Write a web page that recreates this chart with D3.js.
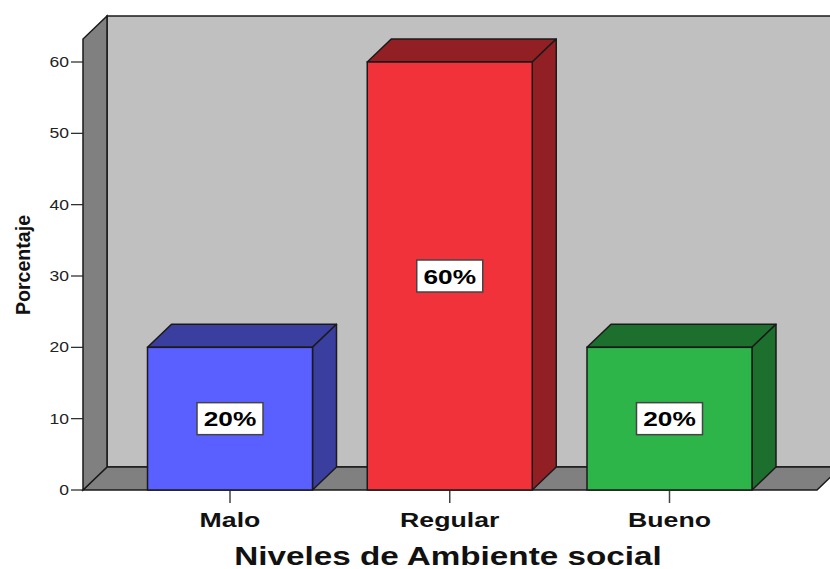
<!DOCTYPE html>
<html><head><meta charset="utf-8">
<script src="https://cdn.jsdelivr.net/npm/d3@7"></script>
<style>body{margin:0;background:#fff}svg{display:block}text{font-family:Arial,"Liberation Sans",sans-serif}</style>
</head><body><svg id="c" width="830" height="569"></svg>
<script>
const categories = ["Malo", "Regular", "Bueno"];
const percentages = [20, 60, 20];
const valueLabels = ["20%", "60%", "20%"];
const yTicks = [0, 10, 20, 30, 40, 50, 60];
const frontColors = ["#5a5fff", "#f1323a", "#2db54a"];
const sideColors = ["#3a3e9e", "#921f24", "#1d6f2d"];
const xTitle = "Niveles de Ambiente social";
const yTitle = "Porcentaje";

const svg = d3.select("#c");
const DX = 24, DY = 23;
const x0 = 83, x1 = 817, yTop = 39;
const y = d3.scaleLinear().domain([0, 60]).range([490, 62]);
const x = d3.scalePoint().domain(categories).range([230, 669.5]);
const bw = 165;
const y0 = y(0);
const stroke = "#1a1a1a";

function stretch(sel, f) {
  sel.each(function () {
    const w = this.getComputedTextLength();
    d3.select(this).attr("textLength", w * f).attr("lengthAdjust", "spacingAndGlyphs");
  });
}

// back wall
svg.append("polygon")
  .attr("points", [[x0 + DX, yTop - DY], [x1 + DX + 30, yTop - DY], [x1 + DX + 30, y0 - DY], [x0 + DX, y0 - DY]].join(" "))
  .attr("fill", "#c0c0c0").attr("stroke", stroke).attr("stroke-width", 1.5);
// floor
svg.append("polygon")
  .attr("points", [[x0, y0], [x1, y0], [x1 + DX, y0 - DY], [x0 + DX, y0 - DY]].join(" "))
  .attr("fill", "#808080").attr("stroke", stroke).attr("stroke-width", 1.5);
// left wall
svg.append("polygon")
  .attr("points", [[x0, y0], [x0, yTop], [x0 + DX, yTop - DY], [x0 + DX, y0 - DY]].join(" "))
  .attr("fill", "#808080").attr("stroke", stroke).attr("stroke-width", 1.5);

// y ticks
const yt = svg.append("g");
yt.selectAll("line").data(yTicks).join("line")
  .attr("x1", x0 - 12).attr("x2", x0).attr("y1", d => y(d)).attr("y2", d => y(d))
  .attr("stroke", "#222").attr("stroke-width", 1.2);
yt.selectAll("text").data(yTicks).join("text")
  .attr("x", x0 - 14).attr("y", d => y(d)).attr("dy", "0.36em")
  .attr("text-anchor", "end").attr("font-size", 14).attr("fill", "#222")
  .text(d => d).call(stretch, 1.25);

// bars
const bars = svg.append("g").selectAll("g").data(categories).join("g");
bars.each(function (c, i) {
  const g = d3.select(this);
  const cx = x(c), l = cx - bw / 2, r = cx + bw / 2, yv = y(percentages[i]);
  g.append("polygon").attr("points", [[l, yv], [l + DX, yv - DY], [r + DX, yv - DY], [r, yv]].join(" "))
    .attr("fill", sideColors[i]).attr("stroke", stroke).attr("stroke-width", 1.5).attr("stroke-linejoin", "round");
  g.append("polygon").attr("points", [[r, yv], [r + DX, yv - DY], [r + DX, y0 - DY], [r, y0]].join(" "))
    .attr("fill", sideColors[i]).attr("stroke", stroke).attr("stroke-width", 1.5).attr("stroke-linejoin", "round");
  g.append("rect").attr("x", l).attr("y", yv).attr("width", bw).attr("height", y0 - yv)
    .attr("fill", frontColors[i]).attr("stroke", stroke).attr("stroke-width", 1.5);
  const cy = (yv + y0) / 2;
  g.append("rect").attr("x", cx - 33).attr("y", cy - 16).attr("width", 66).attr("height", 32)
    .attr("fill", "#fff").attr("stroke", "#444").attr("stroke-width", 1.5);
  g.append("text").attr("x", cx).attr("y", cy).attr("dy", "0.36em").attr("text-anchor", "middle")
    .attr("font-size", 21).attr("font-weight", "bold").attr("fill", "#000")
    .text(valueLabels[i]).call(stretch, 1.25);
});

// x ticks and labels
const xt = svg.append("g");
xt.selectAll("line").data(categories).join("line")
  .attr("x1", d => x(d)).attr("x2", d => x(d)).attr("y1", y0 + 1).attr("y2", y0 + 13)
  .attr("stroke", "#444").attr("stroke-width", 1.5);
xt.selectAll("text").data(categories).join("text")
  .attr("x", d => x(d)).attr("y", 527).attr("text-anchor", "middle")
  .attr("font-size", 21).attr("font-weight", "bold").attr("fill", "#111")
  .text(d => d).call(stretch, 1.27);

svg.append("text").attr("x", 448).attr("y", 565).attr("text-anchor", "middle")
  .attr("font-size", 25).attr("font-weight", "bold").attr("fill", "#111")
  .text(xTitle).call(stretch, 1.33);

svg.append("text").attr("transform", "translate(30,265) rotate(-90)").attr("text-anchor", "middle")
  .attr("font-size", 20).attr("font-weight", "bold").attr("fill", "#111")
  .text(yTitle).call(stretch, 0.98);
</script></body></html>
